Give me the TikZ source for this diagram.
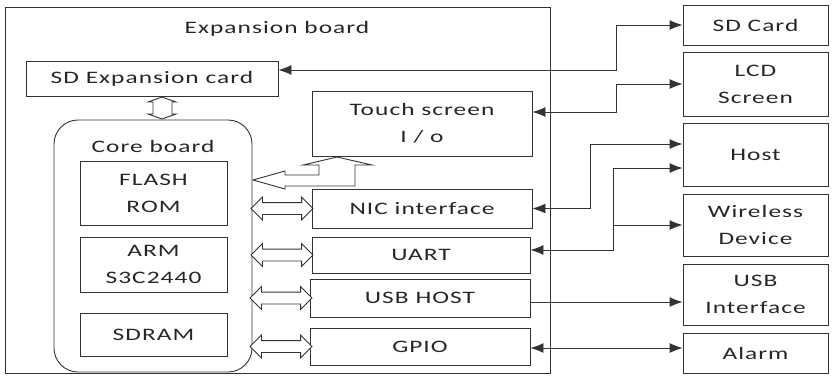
\documentclass[tikz,border=0pt]{standalone}
\usepackage{fontspec}
\setmainfont{Carlito}[FakeStretch=1.45,LetterSpace=6]
\usetikzlibrary{arrows.meta,calc,shapes.arrows}

\tikzset{
    every node/.style={font=\fontsize{17.5}{27}\selectfont,text=black!85},
    blocco/.style={draw=black!80,line width=0.9pt,align=center,inner sep=0pt},
    destra/.style={blocco,minimum width=145pt},
    freccia/.style={-{Latex[length=13pt,width=10pt]},line width=0.9pt,draw=black!80},
    frecciadoppia/.style={{Latex[length=13pt,width=10pt]}-{Latex[length=13pt,width=10pt]},line width=0.9pt,draw=black!80},
    vuota/.style={draw=black!80,line width=0.9pt,fill=white,line join=miter},
    doppiavuota/.style={double arrow,draw=black!80,line width=0.9pt,fill=white,
        minimum width=22pt,minimum height=62pt,double arrow head extend=5.5pt,
        inner xsep=0pt,inner ysep=5.5pt}
}

\begin{document}
\begin{tikzpicture}[x=1pt,y=-1pt]
    \useasboundingbox (0,0) rectangle (837,376);
    %scheda di espansione
    \draw[black!80,line width=0.9pt] (5,7) rectangle (550,373);
    \node (titolo) at (277,29) {Expansion board};
    \node[blocco,minimum width=252pt,minimum height=35pt] (sdexp) at (152,78.5) {SD Expansion card};

    %core board
    \node[blocco,rounded corners=24pt,minimum width=198pt,minimum height=252pt] (core) at (153,246) {};
    \node (coretit) at (153,146) {Core board};
    \node[blocco,minimum width=147pt,minimum height=64pt] (flash) at (153.5,193) {FLASH\\ROM};
    \node[blocco,minimum width=147pt,minimum height=55pt] (arm) at (153.5,264.5) {ARM\\S3C2440};
    \node[blocco,minimum width=147pt,minimum height=43pt] (sdram) at (153.5,334.5) {SDRAM};

    %interfacce
    \node[blocco,minimum width=220pt,minimum height=65pt] (touch) at (422,123.5) {Touch screen\\I / o};
    \node[blocco,minimum width=220pt,minimum height=39pt] (nic) at (422,208.5) {NIC interface};
    \node[blocco,minimum width=218pt,minimum height=36pt] (uart) at (421,255) {UART};
    \node[blocco,minimum width=220pt,minimum height=38pt] (usbh) at (420,298) {USB HOST};
    \node[blocco,minimum width=220pt,minimum height=37pt] (gpio) at (420,346.5) {GPIO};

    %dispositivi esterni
    \node[destra,minimum height=40pt] (sdcard) at (755.5,25) {SD Card};
    \node[destra,minimum height=64pt] (lcd) at (755.5,84) {LCD\\Screen};
    \node[destra,minimum height=63pt] (host) at (755.5,154.5) {Host};
    \node[destra,minimum height=62pt] (wireless) at (755.5,225) {Wireless\\Device};
    \node[destra,minimum height=61pt] (usbi) at (755.5,294.5) {USB\\Interface};
    \node[destra,minimum height=40pt] (alarm) at (755.5,353) {Alarm};

    %frecce vuote
    \draw[vuota] (162,97) -- (176,102) -- (172,102) -- (172,114) -- (176,114) -- (162,119)
        -- (148,114) -- (153,114) -- (153,102) -- (148,102) -- cycle;
    \draw[vuota] (253,180) -- (285,171) -- (285,175) -- (319,175) -- (319,165) -- (303,165)
        -- (337,157) -- (372,165) -- (355,165) -- (355,186) -- (285,186) -- (285,189) -- cycle;
    \node[doppiavuota] (d1) at ($(core.east |- nic.west)!.5!(nic.west)$) {};
    \node[doppiavuota] (d2) at ($(core.east |- uart.west)!.5!(uart.west)$) {};
    \node[doppiavuota] (d3) at ($(core.east |- usbh.west)!.5!(usbh.west)$) {};
    \node[doppiavuota] (d4) at ($(core.east |- gpio.west)!.5!(gpio.west)$) {};

    %collegamenti
    \coordinate (gsd) at (616,70);
    \draw[frecciadoppia] (sdexp.east |- gsd) -- (gsd) |- (sdcard.west);
    \coordinate (glcd) at (616,112);
    \draw[frecciadoppia] (touch.east |- glcd) -- (glcd) |- (lcd.west);
    \coordinate (gh1) at (590,144);
    \draw[frecciadoppia] (nic.east) -| (gh1) -- (host.west |- gh1);
    \coordinate (gh2) at (613,168);
    \coordinate (gu) at (613,250);
    \draw[frecciadoppia] (uart.east |- gu) -- (gu) |- (host.west |- gh2);
    \coordinate (gw) at (613,225);
    \draw[freccia] (gw) -- (wireless.west);
    \coordinate (gub) at (600,302);
    \draw[freccia] (usbh.east |- gub) -- (usbi.west |- gub);
    \coordinate (gal) at (600,348);
    \draw[frecciadoppia] (gpio.east |- gal) -- (alarm.west |- gal);

\end{tikzpicture}
\end{document}
